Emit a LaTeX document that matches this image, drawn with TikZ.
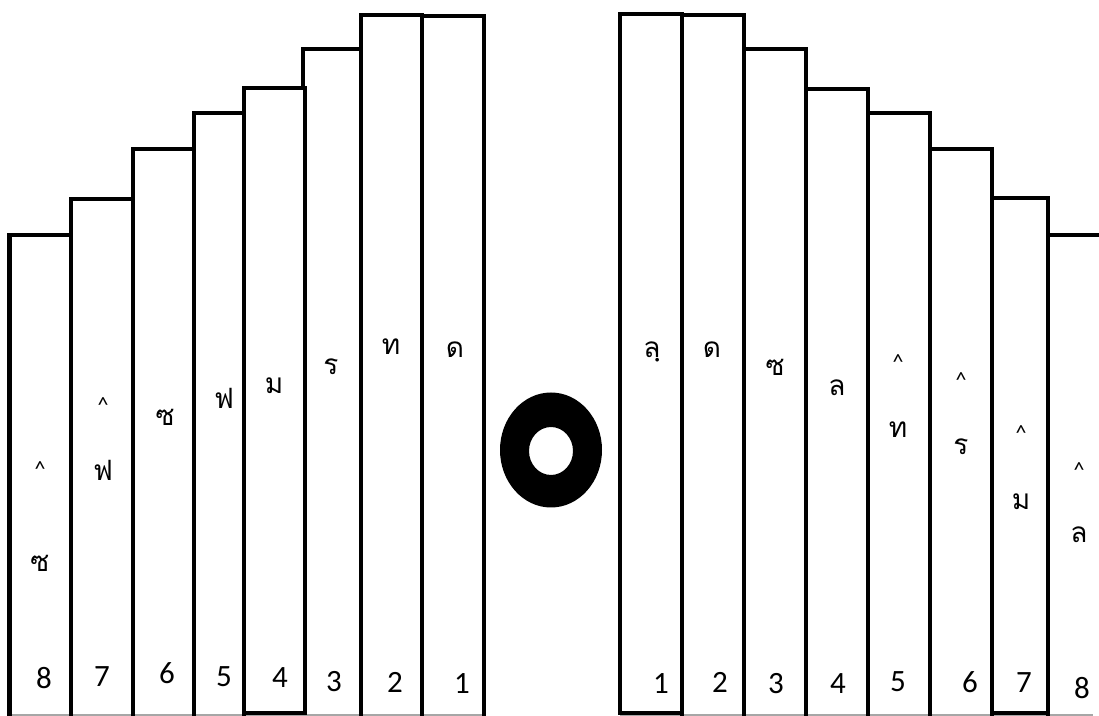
\documentclass[tikz,border=0pt]{standalone}
\usepackage{fontspec}
\setmainfont{Carlito}
\newfontfamily\thaifont[Script=Thai]{Loma}
\begin{document}
\begin{tikzpicture}[x=0.5pt,y=-0.5pt,
  bar/.style={line width=2.4pt, line join=miter, line cap=butt},
  base/.style={draw=gray!70, line width=0.6pt},
  num/.style={inner sep=0pt, font=\fontsize{15.5}{15.5}\selectfont},
  th/.style={inner sep=0pt, font=\thaifont\fontsize{14}{14}\selectfont},
  hat/.style={inner sep=0pt, font=\fontsize{11}{11}\selectfont}]
\useasboundingbox (0,0) rectangle (1099,716);
\clip (0,0) rectangle (1099,716);
% thin base line
\draw[base] (9,715) -- (484,715);
\draw[base] (620,715) -- (1093,715);
% left bars (8 .. 1)
\draw[bar] (9.5,718) |- (71,235) -- (71,718);
\draw[bar] (71,718) |- (133,199) -- (133,718);
\draw[bar] (133,718) |- (194,149) -- (194,718);
\draw[bar] (194,718) |- (244,113) -- (244,718);
\draw[bar] (244,713) |- (305,88) -- (305,713) -- cycle;
\draw[bar] (303,88) |- (361,49) -- (361,718);
\draw[bar] (361,718) |- (422,15) -- (422,718);
\draw[bar] (422,718) |- (484,16) -- (484,718);
% right bars (1 .. 8)
\draw[bar] (620,713) |- (682,14) -- (682,713) -- cycle;
\draw[bar] (682,718) |- (744,15) -- (744,718);
\draw[bar] (744,718) |- (806,49) -- (806,718);
\draw[bar] (806,718) |- (868,89) -- (868,718);
\draw[bar] (868,718) |- (930,113) -- (930,718);
\draw[bar] (930,718) |- (992,149) -- (992,718);
\draw[bar] (992,713) |- (1048,198) -- (1048,713) -- cycle;
\draw[bar] (1048,718) |- (1110,235);
% ring
\fill[even odd rule] (551,450) ellipse [x radius=25.5pt, y radius=28.75pt]
  (551,451) ellipse [x radius=11pt, y radius=12pt];
% left labels
\node[th] (la1) at (455,350) {ด};
\node[th] (la2) at (391,347) {ท};
\node[th] (la3) at (331,367) {ร};
\node[th] (la4) at (274,386) {ม};
\node[th] (la5) at (224,398) {ฟ};
\node[th] (la6) at (165,417) {ซ};
\node[hat] (lh7) at (103,405) {\^{}};
\node[th] (la7) at (103,470) {ฟ};
\node[hat] (lh8) at (40,469) {\^{}};
\node[th] (la8) at (40,563) {ซ};
\node[num] (ln1) at (462,684) {1};
\node[num] (ln2) at (395,682) {2};
\node[num] (ln3) at (334,682) {3};
\node[num] (ln4) at (280,678) {4};
\node[num] (ln5) at (224,677) {5};
\node[num] (ln6) at (167,673) {6};
\node[num] (ln7) at (102,677) {7};
\node[num] (ln8) at (44,678) {8};
% right labels
\node[th] (ra1) at (652,352) {ลฺ};
\node[th] (ra2) at (712,350) {ด};
\node[th] (ra3) at (775,367) {ซ};
\node[th] (ra4) at (837,388) {ล};
\node[hat] (rh5) at (898,362) {\^{}};
\node[th] (ra5) at (898,430) {ท};
\node[hat] (rh6) at (961,380) {\^{}};
\node[th] (ra6) at (961,447) {ร};
\node[hat] (rh7) at (1021,433) {\^{}};
\node[th] (ra7) at (1021,502) {ม};
\node[hat] (rh8) at (1079,470) {\^{}};
\node[th] (ra8) at (1079,535) {ล};
\node[num] (rn1) at (661,684) {1};
\node[num] (rn2) at (720,682) {2};
\node[num] (rn3) at (776,684) {3};
\node[num] (rn4) at (838,684) {4};
\node[num] (rn5) at (898,682) {5};
\node[num] (rn6) at (970,682) {6};
\node[num] (rn7) at (1024,683) {7};
\node[num] (rn8) at (1082,688) {8};
\end{tikzpicture}
\end{document}
